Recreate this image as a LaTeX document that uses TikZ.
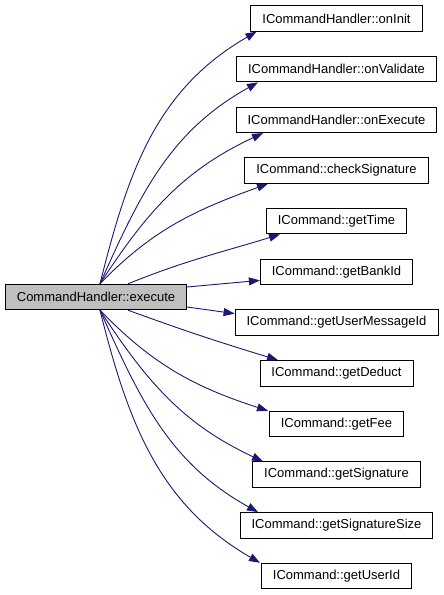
\documentclass[tikz,border=0pt]{standalone}
\usepackage{fontspec}
\setmainfont{Liberation Sans}
\usepackage{tikz}
\usetikzlibrary{arrows.meta}
\usepackage{xcolor}
\definecolor{edgeblue}{HTML}{191970}
\definecolor{curgray}{HTML}{BFBFBF}

\begin{document}
\begin{tikzpicture}[x=1pt,y=1pt,>={Triangle[length=11pt,width=8pt]},
  fn/.style={draw,line width=0.9pt,inner xsep=11.5pt,inner ysep=0pt,minimum height=25.5pt,font=\fontsize{13}{15}\selectfont},
  call/.style={->,edgeblue,line width=0.9pt}]
\useasboundingbox (0,0) rectangle (444,595);
\node[fn,fill=curgray] (ex) at (96,298) {CommandHandler::execute};
\node[fn] (init) at (336.5,576.5) {ICommandHandler::onInit};
\node[fn] (valid) at (336.5,525.8) {ICommandHandler::onValidate};
\node[fn] (exe) at (336.5,475.1) {ICommandHandler::onExecute};
\node[fn] (chk) at (336.5,424.5) {ICommand::checkSignature};
\node[fn] (time) at (336.5,373.8) {ICommand::getTime};
\node[fn] (bank) at (336.5,323.1) {ICommand::getBankId};
\node[fn] (umsg) at (336.5,272.4) {ICommand::getUserMessageId};
\node[fn] (deduct) at (336.5,221.7) {ICommand::getDeduct};
\node[fn] (fee) at (336.5,171) {ICommand::getFee};
\node[fn] (sig) at (336.5,120.4) {ICommand::getSignature};
\node[fn] (sigsize) at (336.5,69.7) {ICommand::getSignatureSize};
\node[fn] (uid) at (336.5,19) {ICommand::getUserId};
\draw[call] ([xshift=4pt]ex.north) to[out=76,in=210] ([xshift=-80pt]init.south);
\draw[call] ([xshift=4pt]ex.north) to[out=66,in=209] ([xshift=-78.5pt]valid.south);
\draw[call] ([xshift=4pt]ex.north) to[out=57,in=205] ([xshift=-73.5pt]exe.south);
\draw[call] ([xshift=4pt]ex.north) to[out=46,in=200] ([xshift=-68.5pt]chk.south);
\draw[call] ([xshift=32pt]ex.north) to[out=22,in=197] ([xshift=-56.5pt]time.south);
\draw[call] ([yshift=10pt]ex.east) -- ([yshift=-8.5pt]bank.west);
\draw[call] ([yshift=-10pt]ex.east) -- ([yshift=9pt]umsg.west);
\draw[call] ([xshift=32pt]ex.south) to[out=-20,in=163] ([xshift=-58.5pt]deduct.north);
\draw[call] ([xshift=4pt]ex.south) to[out=-46,in=162] ([xshift=-68.5pt]fee.north);
\draw[call] ([xshift=4pt]ex.south) to[out=-57,in=155] ([xshift=-73.5pt]sig.north);
\draw[call] ([xshift=4pt]ex.south) to[out=-66,in=151] ([xshift=-78.5pt]sigsize.north);
\draw[call] ([xshift=4pt]ex.south) to[out=-76,in=150] ([xshift=-76.5pt]uid.north);
\end{tikzpicture}
\end{document}
